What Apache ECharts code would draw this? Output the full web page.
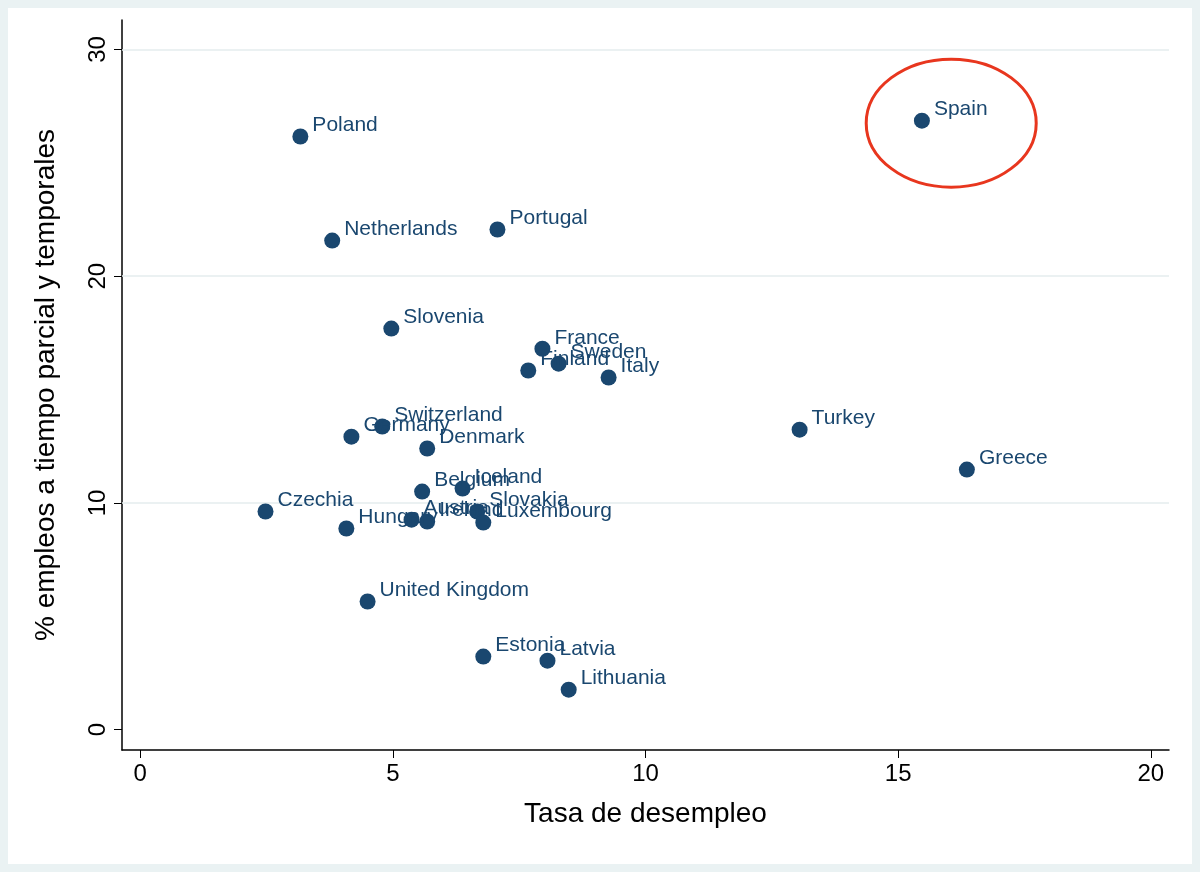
<!DOCTYPE html>
<html><head><meta charset="utf-8">
<script src="https://cdn.jsdelivr.net/npm/echarts@6/dist/echarts.min.js"></script>
<style>html,body{margin:0;padding:0;background:#eaf2f3;}#box{position:absolute;left:8px;top:8px;width:1184px;height:856px;background:#fff;}#c{width:1184px;height:856px;}</style>
</head><body><div id="box"><div id="c"></div></div>
<script>
const countries=["Poland","Netherlands","Portugal","Spain","Slovenia","France","Sweden","Finland","Italy","Turkey","Greece","Switzerland","Germany","Denmark","Belgium","Iceland","Czechia","Hungary","Austria","Ireland","Slovakia","Luxembourg","United Kingdom","Estonia","Latvia","Lithuania"];
const unemployment=[3.17,3.8,7.07,15.47,4.97,7.96,8.28,7.68,9.27,13.05,16.36,4.79,4.18,5.68,5.58,6.38,2.48,4.08,5.37,5.68,6.67,6.79,4.5,6.79,8.06,8.48];
const partTemp=[26.16,21.57,22.06,26.86,17.69,16.8,16.14,15.84,15.53,13.23,11.47,13.37,12.92,12.4,10.5,10.63,9.62,8.87,9.26,9.18,9.62,9.13,5.65,3.22,3.04,1.76];
const xTicks=[0,5,10,15,20];
const yTicks=[0,10,20,30];
const ch=echarts.init(document.getElementById('c'));
const F='Liberation Sans';
ch.setOption({
 animation:false,
 grid:{left:114,right:23,top:12,bottom:114},
 xAxis:{type:'value',min:-0.36,max:20.36,name:'Tasa de desempleo',nameLocation:'middle',nameGap:50,
  nameTextStyle:{fontFamily:F,fontSize:28,color:'#000'},
  axisLine:{onZero:false,lineStyle:{color:'#000',width:1.5}},
  axisTick:{show:true,customValues:xTicks,length:8,lineStyle:{color:'#000'}},
  axisLabel:{customValues:xTicks,fontFamily:F,fontSize:24,color:'#000',margin:12},splitLine:{show:false}},
 yAxis:{type:'value',min:-0.9,max:31.3,name:'% empleos a tiempo parcial y temporales',nameLocation:'middle',nameGap:62,
  nameTextStyle:{fontFamily:F,fontSize:28,color:'#000'},
  axisLine:{show:true,onZero:false,lineStyle:{color:'#000',width:1.5}},
  axisTick:{show:true,customValues:yTicks,length:8,lineStyle:{color:'#000'}},
  axisLabel:{customValues:yTicks,rotate:90,fontFamily:F,fontSize:24,color:'#000',margin:12},splitLine:{show:false}},
 series:[{type:'scatter',symbolSize:16,itemStyle:{color:'#1a476f',opacity:1},
  data:countries.map((n,i)=>[unemployment[i],partTemp[i],n]),
  label:{show:true,position:'right',distance:4,offset:[0,-11],formatter:p=>p.data[2],fontFamily:F,fontSize:21,color:'#1a476f'},
  markLine:{silent:true,symbol:'none',label:{show:false},lineStyle:{color:'#e4ecee',width:1.5,type:'solid'},data:[{yAxis:10},{yAxis:20},{yAxis:30}],z:1},
  z:3}]
});
const c=ch.convertToPixel({gridIndex:0},[16.05,26.75]);
ch.setOption({graphic:[{type:'ellipse',shape:{cx:c[0],cy:c[1],rx:85,ry:64},style:{fill:'none',stroke:'#e8361e',lineWidth:3}}]});
</script></body></html>
